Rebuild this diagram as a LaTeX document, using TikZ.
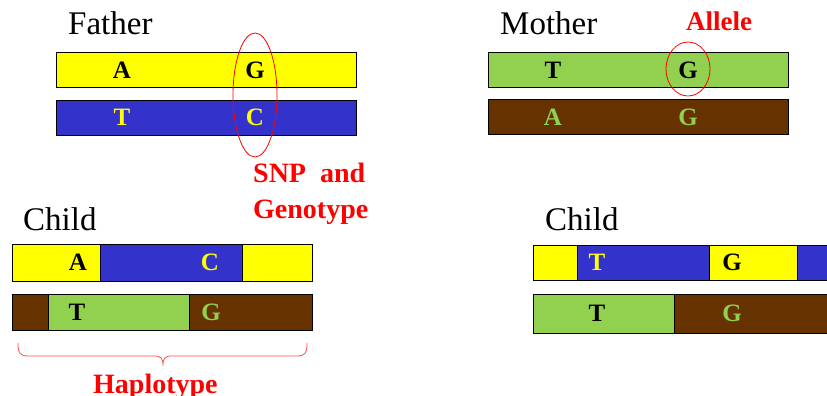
\documentclass[tikz,border=0pt]{standalone}
\usepackage{fontspec}
\setmainfont{Liberation Serif}
\definecolor{cyel}{HTML}{FFFF00}
\definecolor{cblu}{HTML}{3333CC}
\definecolor{cgrn}{HTML}{92D050}
\definecolor{cbrn}{HTML}{663300}
\definecolor{cred}{HTML}{FF0000}
\tikzset{
  barline/.style={draw=black, line width=0.9pt},
  titletxt/.style={anchor=base west, inner sep=0pt, font=\fontsize{33}{33}\selectfont},
  labtxt/.style={anchor=base west, inner sep=0pt, text=cred, font=\bfseries\fontsize{28}{36}\selectfont},
  basetxt/.style={inner sep=0pt, font=\bfseries\fontsize{25}{25}\selectfont},
  redring/.style={draw=cred, line width=0.8pt},
}
\begin{document}
\begin{tikzpicture}[x=1pt,y=-1pt]
\useasboundingbox (0,0) rectangle (827,396);
\clip (0,0) rectangle (827,396);
% Father
\node[titletxt] (fat) at (68,35) {Father};
\fill[cyel] (56,52) rectangle (356,87);
\draw[barline] (56,52) rectangle (356,87);
\fill[cblu] (56,100) rectangle (356,135);
\draw[barline] (56,100) rectangle (356,135);
\node[basetxt] (fa) at (122,70) {A};
\node[basetxt] (fg) at (255,70) {G};
\node[basetxt, text=cyel] (ft) at (122,117) {T};
\node[basetxt, text=cyel] (fc) at (255,117) {C};
\draw[redring] (255,95) ellipse [x radius=22pt, y radius=62pt];
\node[labtxt] (snp) at (253,182) {SNP\ \ and};
\node[labtxt] (geno) at (253,218) {Genotype};
% Mother
\node[titletxt] (mot) at (500,35) {Mother};
\fill[cgrn] (488,52) rectangle (788,87);
\draw[barline] (488,52) rectangle (788,87);
\fill[cbrn] (488,99) rectangle (788,134);
\draw[barline] (488,99) rectangle (788,134);
\node[basetxt] (mt) at (553,70) {T};
\node[basetxt] (mg) at (688,70) {G};
\node[basetxt, text=cgrn] (ma) at (553,117) {A};
\node[basetxt, text=cgrn] (mg2) at (688,117) {G};
\draw[redring] (688,69) ellipse [x radius=22pt, y radius=27pt];
\node[labtxt, font=\bfseries\fontsize{27}{27}\selectfont] (all) at (686,31) {Allele};
% Child left
\node[titletxt] (c1) at (23,230) {Child};
\fill[cyel] (12,244) rectangle (100,281);
\fill[cblu] (100,244) rectangle (242,281);
\fill[cyel] (242,244) rectangle (312,281);
\draw[barline] (100,244) -- (100,281) (242,244) -- (242,281);
\draw[barline] (12,244) rectangle (312,281);
\fill[cbrn] (12,294) rectangle (48,330);
\fill[cgrn] (48,294) rectangle (189,330);
\fill[cbrn] (189,294) rectangle (312,330);
\draw[barline] (48,294) -- (48,330) (189,294) -- (189,330);
\draw[barline] (12,294) rectangle (312,330);
\node[basetxt] (ca) at (78,262) {A};
\node[basetxt, text=cyel] (cc) at (210,262) {C};
\node[basetxt] (ct) at (77,312) {T};
\node[basetxt, text=cgrn] (cg) at (211,312) {G};
\draw[draw=cred!70, line width=0.8pt]
  (18,343) .. controls (18,353) and (20,356) .. (28,356) -- (154,356)
  .. controls (161,356) and (163,358) .. (163,366)
  .. controls (163,358) and (165,356) .. (172,356) -- (297,356)
  .. controls (305,356) and (307,353) .. (307,343);
\node[labtxt] (hap) at (93,393) {Haplotype};
% Child right
\node[titletxt] (c2) at (545,230) {Child};
\fill[cyel] (533,245) rectangle (577,280);
\fill[cblu] (577,245) rectangle (709,280);
\fill[cyel] (709,245) rectangle (797,280);
\fill[cblu] (797,245) rectangle (840,280);
\draw[barline] (577,245) -- (577,280) (709,245) -- (709,280) (797,245) -- (797,280);
\draw[barline] (840,245) -- (533,245) -- (533,280) -- (840,280);
\fill[cgrn] (533,294) rectangle (674,333);
\fill[cbrn] (674,294) rectangle (840,333);
\draw[barline] (674,294) -- (674,333);
\draw[barline] (840,294) -- (533,294) -- (533,333) -- (840,333);
\node[basetxt, text=cyel] (rt) at (597,262) {T};
\node[basetxt] (rg) at (732,262) {G};
\node[basetxt] (rt2) at (597,313) {T};
\node[basetxt, text=cgrn] (rg2) at (732,313) {G};
\end{tikzpicture}
\end{document}
